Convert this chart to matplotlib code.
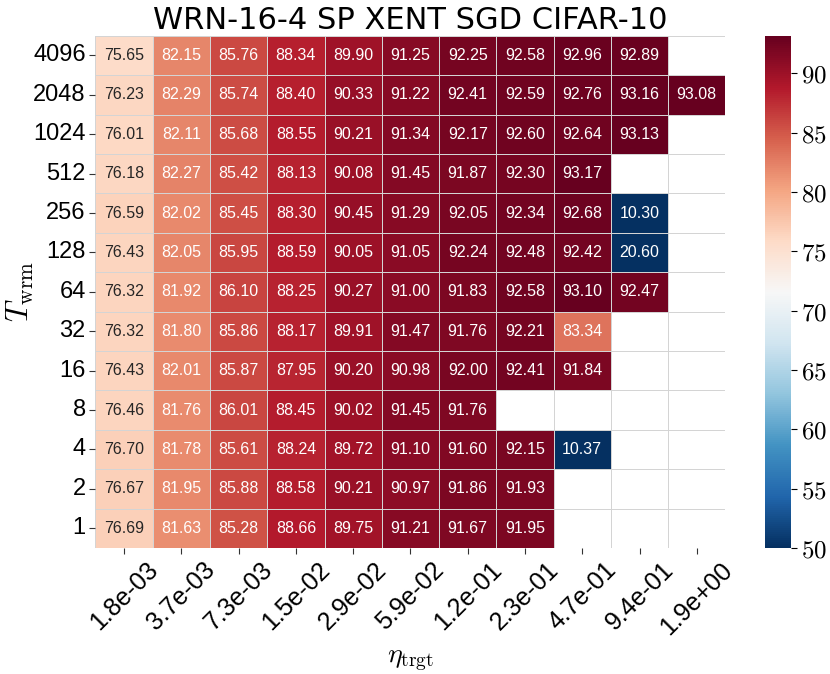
import numpy as np
import matplotlib
matplotlib.use("Agg")
import matplotlib.pyplot as plt
import seaborn as sns

plt.rcParams['mathtext.fontset'] = 'cm'

rows = ["4096", "2048", "1024", "512", "256", "128", "64", "32", "16", "8", "4", "2", "1"]
cols = ["1.8e-03", "3.7e-03", "7.3e-03", "1.5e-02", "2.9e-02", "5.9e-02",
        "1.2e-01", "2.3e-01", "4.7e-01", "9.4e-01", "1.9e+00"]
nan = np.nan
r4096 = [75.65, 82.15, 85.76, 88.34, 89.90, 91.25, 92.25, 92.58, 92.96, 92.89, nan]
r2048 = [76.23, 82.29, 85.74, 88.40, 90.33, 91.22, 92.41, 92.59, 92.76, 93.16, 93.08]
r1024 = [76.01, 82.11, 85.68, 88.55, 90.21, 91.34, 92.17, 92.60, 92.64, 93.13, nan]
r512 = [76.18, 82.27, 85.42, 88.13, 90.08, 91.45, 91.87, 92.30, 93.17, nan, nan]
r256 = [76.59, 82.02, 85.45, 88.30, 90.45, 91.29, 92.05, 92.34, 92.68, 10.30, nan]
r128 = [76.43, 82.05, 85.95, 88.59, 90.05, 91.05, 92.24, 92.48, 92.42, 20.60, nan]
r64 = [76.32, 81.92, 86.10, 88.25, 90.27, 91.00, 91.83, 92.58, 93.10, 92.47, nan]
r32 = [76.32, 81.80, 85.86, 88.17, 89.91, 91.47, 91.76, 92.21, 83.34, nan, nan]
r16 = [76.43, 82.01, 85.87, 87.95, 90.20, 90.98, 92.00, 92.41, 91.84, nan, nan]
r8 = [76.46, 81.76, 86.01, 88.45, 90.02, 91.45, 91.76, nan, nan, nan, nan]
r4 = [76.70, 81.78, 85.61, 88.24, 89.72, 91.10, 91.60, 92.15, 10.37, nan, nan]
r2 = [76.67, 81.95, 85.88, 88.58, 90.21, 90.97, 91.86, 91.93, nan, nan, nan]
r1 = [76.69, 81.63, 85.28, 88.66, 89.75, 91.21, 91.67, 91.95, nan, nan, nan]
cbar_ticks = [50, 55, 60, 65, 70, 75, 80, 85, 90]

data = np.array([r4096, r2048, r1024, r512, r256, r128, r64, r32, r16, r8, r4, r2, r1])

sans = ["Liberation Sans", "DejaVu Sans"]

fig = plt.figure(figsize=(8.3, 6.74), dpi=100)
ax = fig.add_axes([0.1150, 0.187, 0.759, 0.760])
cax = fig.add_axes([0.9217, 0.187, 0.0313, 0.760])

sns.heatmap(data, ax=ax, cbar_ax=cax, cmap="RdBu_r", vmin=50, vmax=np.nanmax(data),
            annot=True, fmt=".2f", linewidths=0.7, linecolor="#d4d4d4",
            annot_kws={"fontsize": 11.5, "family": sans},
            xticklabels=cols, yticklabels=rows)

for sp in ax.spines.values():
    sp.set_visible(False)

ax.set_xticklabels(cols, rotation=45, ha="center", fontsize=18, family=sans)
ax.set_yticklabels(rows, rotation=0, fontsize=17, family=sans)
ax.tick_params(axis="both", length=4, width=0.8, color="#333333", pad=3)
ax.set_title("WRN-16-4 SP XENT SGD CIFAR-10", fontsize=22, family="DejaVu Sans", pad=5)
ax.set_ylabel(r"$T_{\rm wrm}$", fontsize=22)
ax.set_xlabel(r"$\eta_{\rm trgt}$", fontsize=20)
ax.yaxis.set_label_coords(-0.095, 0.5)
ax.xaxis.set_label_coords(0.5, -0.19)

cb = ax.collections[0].colorbar
cb.set_ticks(cbar_ticks)
cb.set_ticklabels([f"${v}$" for v in cbar_ticks])
cax.tick_params(labelsize=18, length=4, width=0.8)
cb.outline.set_visible(False)

fig.savefig("out.png", dpi=100)
